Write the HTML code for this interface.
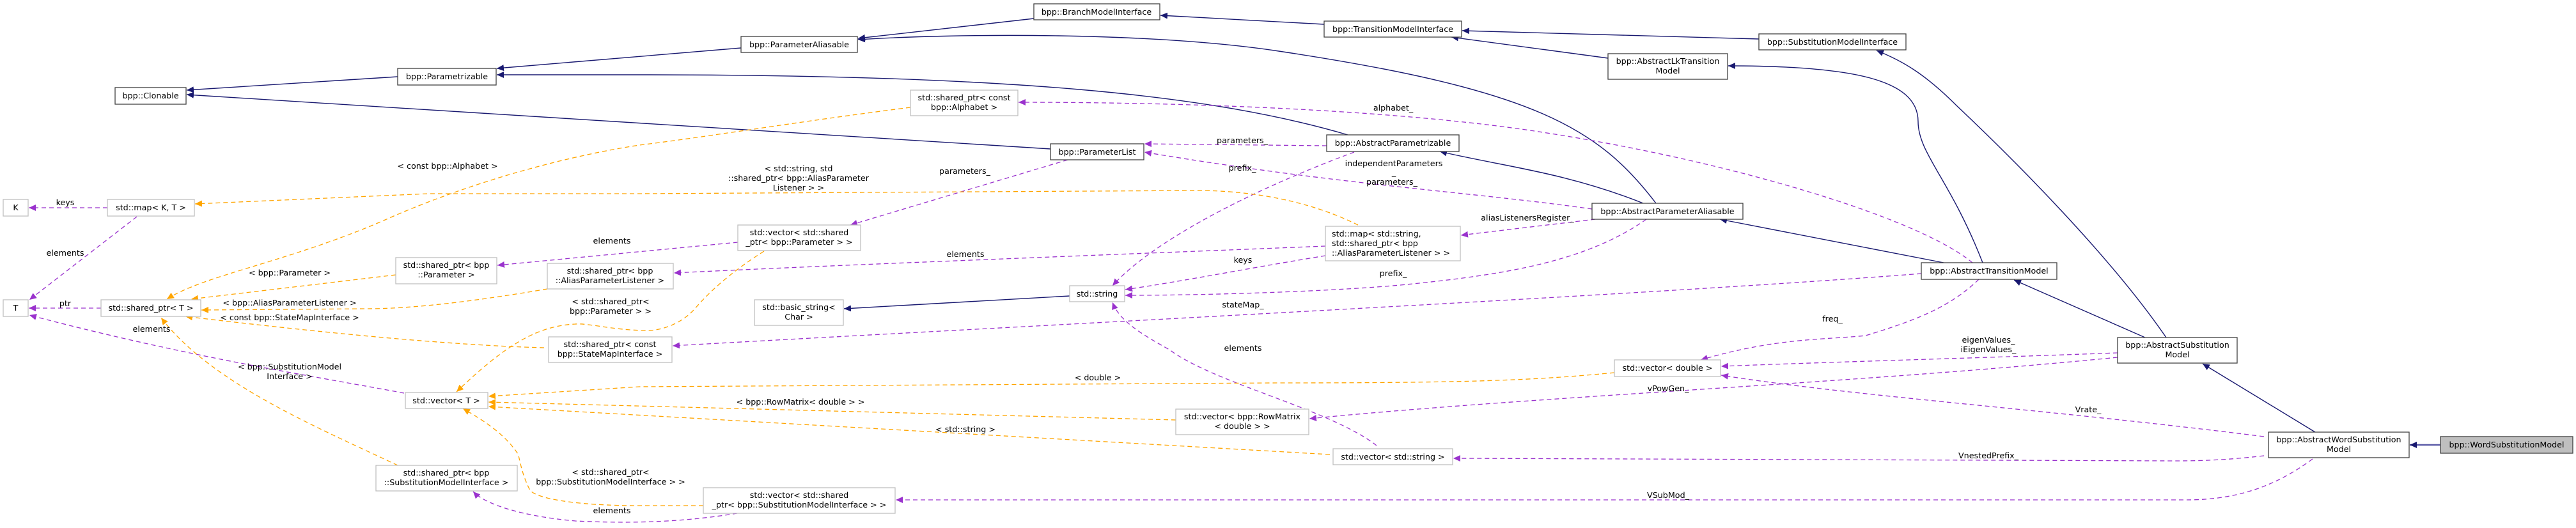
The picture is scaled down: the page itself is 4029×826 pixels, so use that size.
<!DOCTYPE html>
<html><head><meta charset="utf-8"><style>
html,body{margin:0;padding:0;background:#fff;}
svg{display:block;}
text{font-family:"DejaVu Sans","Liberation Sans",sans-serif;font-size:12.7px;fill:#000;}
.n{fill:#fff;stroke:#404040;stroke-width:1.3;}
.u{fill:#fff;stroke:#bfbfbf;stroke-width:1.3;}
.g{fill:#bfbfbf;stroke:#404040;stroke-width:1.3;}
.i{fill:none;stroke:#191970;stroke-width:1.4;}
.p{fill:none;stroke:#9a32cd;stroke-width:1.3;stroke-dasharray:7,5;}
.o{fill:none;stroke:#ffa500;stroke-width:1.3;stroke-dasharray:7,5;}
</style></head><body>
<svg width="4029" height="826" viewBox="0 0 4029 826" xmlns="http://www.w3.org/2000/svg">
<defs>
<marker id="ai" markerWidth="12" markerHeight="10" refX="11" refY="5" orient="auto" markerUnits="userSpaceOnUse"><path d="M0,0 L11,5 L0,10 z" fill="#191970"/></marker>
<marker id="ap" markerWidth="12" markerHeight="10" refX="11" refY="5" orient="auto" markerUnits="userSpaceOnUse"><path d="M0,0 L11,5 L0,10 z" fill="#9a32cd"/></marker>
<marker id="ao" markerWidth="12" markerHeight="10" refX="11" refY="5" orient="auto" markerUnits="userSpaceOnUse"><path d="M0,0 L11,5 L0,10 z" fill="#ffa500"/></marker>
</defs>

<!-- inheritance edges -->
<path class="i" marker-end="url(#ai)" d="M622,120 L292,141"/>
<path class="i" marker-end="url(#ai)" d="M1643,233 L292,148"/>
<path class="i" marker-end="url(#ai)" d="M1159,75 L777,107"/>
<path class="i" marker-end="url(#ai)" d="M2108,211 C1900,150 1600,117 1000,117 L777,117"/>
<path class="i" marker-end="url(#ai)" d="M1617,29 L1342,60"/>
<path class="i" marker-end="url(#ai)" d="M2590,318 C2500,200 2400,140 2000,80 C1800,50 1500,52 1342,62"/>
<path class="i" marker-end="url(#ai)" d="M2071,38 L1815,24"/>
<path class="i" marker-end="url(#ai)" d="M2751,61 L2287,48"/>
<path class="i" marker-end="url(#ai)" d="M2515,91 L2270,58"/>
<path class="i" marker-end="url(#ai)" d="M2570,318 C2450,270 2350,260 2252,237"/>
<path class="i" marker-end="url(#ai)" d="M3040,411 L2690,343"/>
<path class="i" marker-end="url(#ai)" d="M3101,411 C3050,280 3000,240 3000,190 C3000,125 2900,103 2703,103"/>
<path class="i" marker-end="url(#ai)" d="M3355,528 L3150,438"/>
<path class="i" marker-end="url(#ai)" d="M3388,528 C3300,400 3150,250 3060,165 C3010,115 2975,95 2935,79"/>
<path class="i" marker-end="url(#ai)" d="M3621,676 L3445,569"/>
<path class="i" marker-end="url(#ai)" d="M3817,696 L3769,696" style="stroke:#5c5ca8;stroke-width:2.5"/>
<path class="i" marker-end="url(#ai)" d="M1673,463 L1320,483"/>

<!-- usage edges (purple) -->
<path class="p" marker-end="url(#ap)" d="M168,325 L45,325"/>
<path class="p" marker-end="url(#ap)" d="M214,339 L46,469"/>
<path class="p" marker-end="url(#ap)" d="M158,482 L45,482"/>
<path class="p" marker-end="url(#ap)" d="M632,615 C500,590 300,560 46,493"/>
<path class="p" marker-end="url(#ap)" d="M1154,379 L778,415"/>
<path class="p" marker-end="url(#ap)" d="M1670,250 L1330,352"/>
<path class="p" marker-end="url(#ap)" d="M2075,228 L1790,225"/>
<path class="p" marker-end="url(#ap)" d="M2490,327 C2300,300 2100,290 1790,238"/>
<path class="p" marker-end="url(#ap)" d="M2118,238 C1950,300 1800,380 1740,447"/>
<path class="p" marker-end="url(#ap)" d="M2073,385 C1700,400 1300,415 1054,427"/>
<path class="p" marker-end="url(#ap)" d="M2073,400 C1950,420 1850,440 1760,453"/>
<path class="p" marker-end="url(#ap)" d="M2495,343 L2285,368"/>
<path class="p" marker-end="url(#ap)" d="M2575,343 C2480,410 2350,430 2200,445 C2100,455 1900,462 1760,462"/>
<path class="p" marker-end="url(#ap)" d="M3005,428 C2600,460 1600,510 1052,541"/>
<path class="p" marker-end="url(#ap)" d="M3085,411 C3000,340 2700,250 2400,205 C2200,175 1900,160 1593,160"/>
<path class="p" marker-end="url(#ap)" d="M3095,437 C3050,480 3000,500 2918,525 C2850,532 2780,528 2660,563"/>
<path class="p" marker-end="url(#ap)" d="M3312,552 C3100,560 2900,565 2692,573"/>
<path class="p" marker-end="url(#ap)" d="M3541,683 C3200,640 2900,620 2692,587"/>
<path class="p" marker-end="url(#ap)" d="M3312,559 C2900,600 2400,620 2048,655"/>
<path class="p" marker-end="url(#ap)" d="M3541,713 C3480,720 3440,721 3400,721 L2273,717"/>
<path class="p" marker-end="url(#ap)" d="M3617,718 C3560,760 3500,782 3420,782 L1401,782"/>
<path class="p" marker-end="url(#ap)" d="M2153,697 C2080,640 1900,600 1829,547 C1780,520 1750,500 1740,473"/>
<path class="p" marker-end="url(#ap)" d="M1153,803 C1080,815 1000,820 900,815 C820,808 760,790 740,769"/>

<!-- template edges (orange) -->
<path class="o" marker-end="url(#ao)" d="M1424,168 C1250,190 1100,215 1000,227 C850,250 700,300 600,345 C450,410 320,430 261,468"/>
<path class="o" marker-end="url(#ao)" d="M2124,352 C2080,330 2000,300 1880,298 L1000,303 L670,303 L305,319"/>
<path class="o" marker-end="url(#ao)" d="M619,430 L299,468"/>
<path class="o" marker-end="url(#ao)" d="M856,452 C750,470 650,483 574,483 L315,485"/>
<path class="o" marker-end="url(#ao)" d="M851,544 C700,540 500,520 290,495"/>
<path class="o" marker-end="url(#ao)" d="M622,728 C500,670 330,600 252,497"/>
<path class="o" marker-end="url(#ao)" d="M1195,393 C1120,440 1090,480 1083,487 C1060,510 1030,517 1013,517 C960,517 920,505 899,507 C840,510 790,540 714,613"/>
<path class="o" marker-end="url(#ao)" d="M2525,583 C2400,595 2300,599 2000,599 L1000,605 L764,620"/>
<path class="o" marker-end="url(#ao)" d="M1839,657 L764,629"/>
<path class="o" marker-end="url(#ao)" d="M2080,711 L764,636"/>
<path class="o" marker-end="url(#ao)" d="M1100,791 L1000,791 C900,791 840,780 829,767 C815,740 813,717 810,710 C790,680 760,660 724,639"/>

<!-- nodes -->
<rect class="n" x="180" y="137" width="111" height="26"/><text x="235.5" y="154" text-anchor="middle">bpp::Clonable</text>
<rect class="n" x="622" y="107" width="154" height="26"/><text x="699" y="124" text-anchor="middle">bpp::Parametrizable</text>
<rect class="u" x="5" y="312" width="39" height="26"/><text x="24.5" y="329" text-anchor="middle">K</text>
<rect class="u" x="168" y="312" width="136" height="26"/><text x="236" y="329" text-anchor="middle">std::map&lt; K, T &gt;</text>
<rect class="u" x="5" y="469" width="39" height="26"/><text x="24.5" y="486" text-anchor="middle">T</text>
<rect class="u" x="158" y="469" width="156" height="26"/><text x="236" y="486" text-anchor="middle">std::shared_ptr&lt; T &gt;</text>
<rect class="u" x="619" y="403" width="158" height="41"/><text x="698" y="419" text-anchor="middle">std::shared_ptr&lt; bpp</text><text x="698" y="434" text-anchor="middle">::Parameter &gt;</text>
<rect class="u" x="856" y="412" width="197" height="40"/><text x="954" y="428" text-anchor="middle">std::shared_ptr&lt; bpp</text><text x="954" y="443" text-anchor="middle">::AliasParameterListener &gt;</text>
<rect class="u" x="858" y="527" width="193" height="40"/><text x="954" y="543" text-anchor="middle">std::shared_ptr&lt; const</text><text x="954" y="558" text-anchor="middle">bpp::StateMapInterface &gt;</text>
<rect class="u" x="634" y="614" width="129" height="25"/><text x="698" y="631" text-anchor="middle">std::vector&lt; T &gt;</text>
<rect class="u" x="588" y="728" width="221" height="40"/><text x="698" y="744" text-anchor="middle">std::shared_ptr&lt; bpp</text><text x="698" y="759" text-anchor="middle">::SubstitutionModelInterface &gt;</text>
<rect class="n" x="1617" y="6" width="197" height="25"/><text x="1715" y="23" text-anchor="middle">bpp::BranchModelInterface</text>
<rect class="n" x="1159" y="57" width="182" height="25"/><text x="1250" y="74" text-anchor="middle">bpp::ParameterAliasable</text>
<rect class="u" x="1424" y="141" width="168" height="40"/><text x="1508" y="157" text-anchor="middle">std::shared_ptr&lt; const</text><text x="1508" y="172" text-anchor="middle">bpp::Alphabet &gt;</text>
<rect class="n" x="1643" y="225" width="146" height="25"/><text x="1716" y="242" text-anchor="middle">bpp::ParameterList</text>
<rect class="u" x="1154" y="352" width="192" height="40"/><text x="1250" y="368" text-anchor="middle">std::vector&lt; std::shared</text><text x="1250" y="383" text-anchor="middle">_ptr&lt; bpp::Parameter &gt; &gt;</text>
<rect class="u" x="1673" y="447" width="86" height="25"/><text x="1716" y="464" text-anchor="middle">std::string</text>
<rect class="u" x="1180" y="469" width="139" height="40"/><text x="1249.5" y="485" text-anchor="middle">std::basic_string&lt;</text><text x="1249.5" y="500" text-anchor="middle">Char &gt;</text>
<rect class="u" x="1839" y="640" width="208" height="40"/><text x="1943" y="656" text-anchor="middle">std::vector&lt; bpp::RowMatrix</text><text x="1943" y="671" text-anchor="middle">&lt; double &gt; &gt;</text>
<rect class="u" x="1100" y="763" width="300" height="40"/><text x="1250" y="779" text-anchor="middle">std::vector&lt; std::shared</text><text x="1250" y="794" text-anchor="middle">_ptr&lt; bpp::SubstitutionModelInterface &gt; &gt;</text>
<rect class="n" x="2071" y="33" width="215" height="25"/><text x="2178.5" y="50" text-anchor="middle">bpp::TransitionModelInterface</text>
<rect class="n" x="2751" y="53" width="230" height="25"/><text x="2866" y="70" text-anchor="middle">bpp::SubstitutionModelInterface</text>
<rect class="n" x="2515" y="84" width="187" height="40"/><text x="2608.5" y="100" text-anchor="middle">bpp::AbstractLkTransition</text><text x="2608.5" y="115" text-anchor="middle">Model</text>
<rect class="n" x="2075" y="211" width="207" height="26"/><text x="2178.5" y="228" text-anchor="middle">bpp::AbstractParametrizable</text>
<rect class="n" x="2490" y="318" width="236" height="25"/><text x="2608" y="335" text-anchor="middle">bpp::AbstractParameterAliasable</text>
<rect class="u" x="2073" y="354" width="211" height="54"/><text x="2083" y="370">std::map&lt; std::string,</text><text x="2083" y="385"> std::shared_ptr&lt; bpp</text><text x="2083" y="400">::AliasParameterListener &gt; &gt;</text>
<rect class="u" x="2525" y="563" width="166" height="26"/><text x="2608" y="580" text-anchor="middle">std::vector&lt; double &gt;</text>
<rect class="u" x="2085" y="702" width="187" height="25"/><text x="2178.5" y="719" text-anchor="middle">std::vector&lt; std::string &gt;</text>
<rect class="n" x="3005" y="411" width="212" height="26"/><text x="3111" y="428" text-anchor="middle">bpp::AbstractTransitionModel</text>
<rect class="n" x="3312" y="528" width="187" height="40"/><text x="3405.5" y="544" text-anchor="middle">bpp::AbstractSubstitution</text><text x="3405.5" y="559" text-anchor="middle">Model</text>
<rect class="n" x="3548" y="676" width="220" height="40"/><text x="3658" y="692" text-anchor="middle">bpp::AbstractWordSubstitution</text><text x="3658" y="707" text-anchor="middle">Model</text>
<rect class="g" x="3817" y="683" width="207" height="26"/><text x="3920.5" y="700" text-anchor="middle">bpp::WordSubstitutionModel</text>

<!-- edge labels -->
<g text-anchor="middle">
<text x="102" y="321">keys</text>
<text x="102" y="400">elements</text>
<text x="700" y="264">&lt; const bpp::Alphabet &gt;</text>
<text x="957" y="381">elements</text>
<text x="102" y="479">ptr</text>
<text x="453" y="431">&lt; bpp::Parameter &gt;</text>
<text x="453" y="478">&lt; bpp::AliasParameterListener &gt;</text>
<text x="453" y="501">&lt; const bpp::StateMapInterface &gt;</text>
<text x="237" y="519">elements</text>
<text x="453" y="578">&lt; bpp::SubstitutionModel</text>
<text x="453" y="593">Interface &gt;</text>
<text x="955" y="476">&lt; std::shared_ptr&lt;</text>
<text x="955" y="491">bpp::Parameter &gt; &gt;</text>
<text x="955" y="743">&lt; std::shared_ptr&lt;</text>
<text x="955" y="758">bpp::SubstitutionModelInterface &gt; &gt;</text>
<text x="957" y="803">elements</text>
<text x="1943" y="224">parameters_</text>
<text x="1943" y="267">prefix_</text>
<text x="1249" y="268">&lt; std::string, std</text>
<text x="1249" y="283">::shared_ptr&lt; bpp::AliasParameter</text>
<text x="1249" y="298">Listener &gt; &gt;</text>
<text x="1509" y="272">parameters_</text>
<text x="1510" y="402">elements</text>
<text x="1944" y="411">keys</text>
<text x="1944" y="481">stateMap_</text>
<text x="1944" y="549">elements</text>
<text x="1717" y="595">&lt; double &gt;</text>
<text x="1252" y="633">&lt; bpp::RowMatrix&lt; double &gt; &gt;</text>
<text x="1510" y="676">&lt; std::string &gt;</text>
<text x="2179" y="173">alphabet_</text>
<text x="2180" y="260">independentParameters</text>
<text x="2180" y="274">_</text>
<text x="2177" y="289">parameters_</text>
<text x="2389" y="345">aliasListenersRegister_</text>
<text x="2179" y="432">prefix_</text>
<text x="2866" y="503">freq_</text>
<text x="2609" y="612">vPowGen_</text>
<text x="2609" y="779">VSubMod_</text>
<text x="3110" y="536">eigenValues_</text>
<text x="3110" y="551">iEigenValues_</text>
<text x="3266" y="645">Vrate_</text>
<text x="3110" y="717">VnestedPrefix_</text>
</g>
</svg>
</body></html>
